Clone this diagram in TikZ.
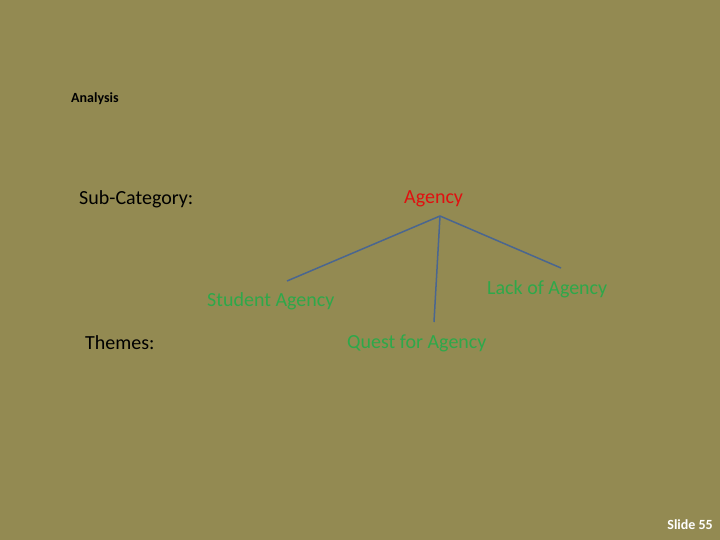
\documentclass[tikz,border=0pt]{standalone}
\usepackage{fontspec}
\setmainfont{Carlito}
\definecolor{bg}{HTML}{938A52}
\definecolor{ln}{HTML}{4A6690}
\definecolor{gr}{HTML}{2EA84A}
\definecolor{rd}{HTML}{E01010}
\begin{document}
\begin{tikzpicture}[x=1pt,y=-1pt,
  lbl/.style={inner sep=0pt,anchor=west,font=\fontsize{20}{24}\selectfont},
  br/.style={draw=ln,line width=1.5pt}]
\fill[bg] (0,0) rectangle (720,540);
\useasboundingbox (0,0) rectangle (720,540);
\node[inner sep=0pt,anchor=west,font=\bfseries\fontsize{14}{16}\selectfont] (an) at (71,99) {Analysis};
\node[lbl] (sc) at (79,199) {Sub-Category:};
\node[lbl] (th) at (85,343) {Themes:};
\node[lbl,text=rd] (ag) at (404,199) {Agency};
\node[lbl,text=gr] (sa) at (207,301) {Student Agency};
\node[lbl,text=gr] (la) at (487,289) {Lack of Agency};
\node[lbl,text=gr] (qa) at (347,343) {Quest for Agency};
\coordinate (top) at (440,216);
\coordinate (e1) at (287,281);
\coordinate (e2) at (434,322);
\coordinate (e3) at (561,268);
\draw[br] (top) -- (e1);
\draw[br] (top) -- (e2);
\draw[br] (top) -- (e3);
\node[inner sep=0pt,anchor=east,text=white,font=\bfseries\fontsize{14}{16}\selectfont] (sl) at (713,525) {Slide 55};
\end{tikzpicture}
\end{document}
